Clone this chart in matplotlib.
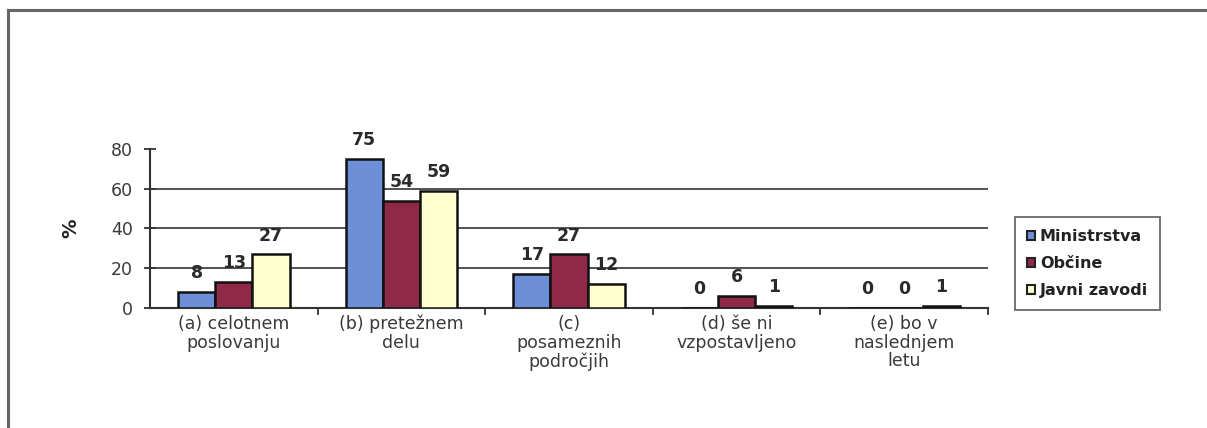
import matplotlib
matplotlib.use("Agg")
import matplotlib.pyplot as plt
import numpy as np
from matplotlib.lines import Line2D

categories = ["(a) celotnem\nposlovanju", "(b) pretežnem\ndelu",
              "(c)\nposameznih\npodročjih", "(d) še ni\nvzpostavljeno",
              "(e) bo v\nnaslednjem\nletu"]
series_names = ["Ministrstva", "Občine", "Javni zavodi"]
ministrstva = [8, 75, 17, 0, 0]
obcine = [13, 54, 27, 6, 0]
javni_zavodi = [27, 59, 12, 1, 1]
yticks = [0, 20, 40, 60, 80]

colors = ["#6D8FD8", "#8E2A48", "#FFFFD0"]

plt.rcParams['font.family'] = ['DejaVu Sans']

fig = plt.figure(figsize=(12.07, 4.28), dpi=100)
ax = fig.add_axes([0.1243, 0.2804, 0.6943, 0.3715])

x = np.arange(len(categories))
width = 0.222
for i, (vals, col) in enumerate(zip([ministrstva, obcine, javni_zavodi], colors)):
    pos = x + (i - 1) * width
    ax.bar(pos, vals, width, color=col, edgecolor="#111111", linewidth=1.8,
           zorder=3, label=series_names[i])
    for p, v in zip(pos, vals):
        ax.annotate(f"{v}", (p, v), xytext=(0, 7), textcoords="offset points",
                    ha="center", va="bottom", fontsize=12.5,
                    fontweight="bold", color="#2a2a2a", zorder=4)

ax.set_xlim(-0.5, len(categories) - 0.5)
ax.set_ylim(0, 80)
ax.set_yticks(yticks)
ax.set_yticklabels([str(t) for t in yticks], fontsize=12.5, color="#3a3a3a")
for t in yticks[1:-1]:
    ax.axhline(t, color="#222222", linewidth=1.1, zorder=1)

ax.set_xticks(x)
ax.set_xticklabels(categories, fontsize=12.5, color="#3a3a3a", linespacing=1.05)
ax.tick_params(axis="x", length=0, pad=5)
ax.tick_params(axis="y", direction="inout", length=9, width=1.3,
               color="#333333", pad=8)
for b in np.arange(-0.5, len(categories), 1.0)[1:]:
    ax.plot([b, b], [0, -3], color="#333333", linewidth=1.3,
            clip_on=False, zorder=2)

for side in ["top", "right"]:
    ax.spines[side].set_visible(False)
ax.spines["left"].set_color("#333333")
ax.spines["bottom"].set_color("#333333")
ax.spines["left"].set_linewidth(1.5)
ax.spines["bottom"].set_linewidth(1.5)

ax.set_ylabel("%", fontsize=14, fontweight="bold", color="#222222", labelpad=22)

handles = [plt.Rectangle((0, 0), 1, 1, facecolor=c, edgecolor="#222222",
                         linewidth=1.5) for c in colors]
leg = fig.legend(handles, series_names, loc="upper left",
                 bbox_to_anchor=(1015 / 1207, 1 - 217 / 428),
                 frameon=True, fancybox=False, edgecolor="#444444",
                 handlelength=0.5, handleheight=0.5,
                 handletextpad=0.3, labelspacing=0.75, borderpad=0.75,
                 borderaxespad=0.0,
                 prop={"weight": "bold", "size": 11.5})
leg.get_frame().set_linewidth(1.3)
for t in leg.get_texts():
    t.set_color("#222222")

# outer frame
fig.add_artist(Line2D([8 / 1207, 1.0], [1 - 10 / 428, 1 - 10 / 428],
                      color="#666666", linewidth=2.2))
fig.add_artist(Line2D([8 / 1207, 8 / 1207], [1 - 10 / 428, 0.0],
                      color="#666666", linewidth=2.2))

fig.savefig("out.png", dpi=100)
